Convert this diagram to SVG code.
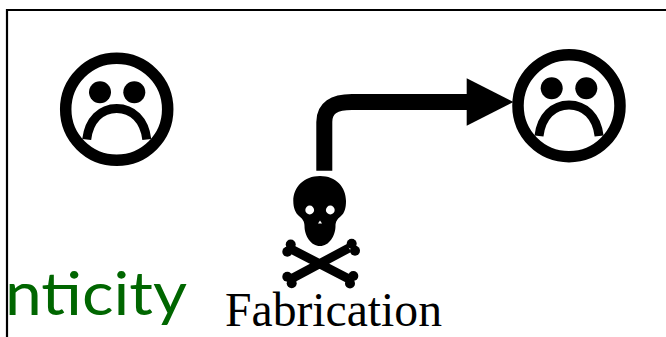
<svg xmlns="http://www.w3.org/2000/svg" width="666" height="337" viewBox="0 0 666 337">
<style>
.ring{fill:none;stroke:#000;stroke-width:11.5}
.mouth{fill:none;stroke:#000;stroke-width:9}
.bone{fill:none;stroke:#000;stroke-width:9}
</style>
<rect width="666" height="337" fill="#fff"/>
<path d="M7 337V10H666" fill="none" stroke="#000" stroke-width="2.2"/>
<g id="face-left">
<circle class="ring" cx="116.7" cy="109.3" r="51"/>
<circle cx="100" cy="92.3" r="11"/>
<circle cx="134.3" cy="92.3" r="11"/>
<path class="mouth" d="M86.7 139.5C89 120 101 108.5 116.7 108.5S144.500 120 146.800 139.500"/>
</g>
<g id="face-right">
<circle class="ring" cx="569" cy="105.700" r="51"/>
<circle cx="551.700" cy="88.300" r="11"/>
<circle cx="586.300" cy="88.300" r="11"/>
<path class="mouth" d="M539 136C541.300 116.500 553.300 105 569 105S596.800 116.500 599.100 136"/>
</g>
<g id="connectors">
<path d="M324.300 170.700V122C324.300 108 334 102 352 102H470" fill="none" stroke="#000" stroke-width="16"/>
<path d="M466.700 78.300L513.500 102L466.700 125.700Z"/>
</g>
<g id="attacker">
<path d="M320 176C336 176 346 187 346 201C346 208 344.500 213 341 216C337 219 335.500 222 335.500 226C335.500 236 329 246 320 246C311 246 304.500 236 304.500 226C304.500 222 303 219 299 216C295.500 213 293.300 208 293.300 201C293.300 187 304 176 320 176Z"/>
<circle cx="309.700" cy="210" r="4.400" fill="#fff"/>
<circle cx="330.300" cy="210" r="4.400" fill="#fff"/>
<path d="M320 220.500L322 223.500H318Z" fill="#fff"/>
<path class="bone" d="M291 249L349 279M349 248L291 279"/>
<g>
<circle cx="290.700" cy="244.500" r="5"/><circle cx="287.300" cy="251.700" r="5"/>
<circle cx="287.300" cy="276.700" r="5"/><circle cx="291.700" cy="283.300" r="5"/>
<circle cx="351.700" cy="243.800" r="5"/><circle cx="355" cy="250.700" r="5"/>
<circle cx="353.300" cy="276" r="5"/><circle cx="350" cy="283.500" r="5"/>
</g>
<text x="225" y="326" font-family="'Liberation Serif',serif" font-size="48" textLength="217" lengthAdjust="spacingAndGlyphs">Fabrication</text>
</g>
<text x="5" y="315" font-family="Lato,'Noto Sans',sans-serif" font-size="60" fill="#006600" textLength="182" lengthAdjust="spacingAndGlyphs">nticity</text>
</svg>
